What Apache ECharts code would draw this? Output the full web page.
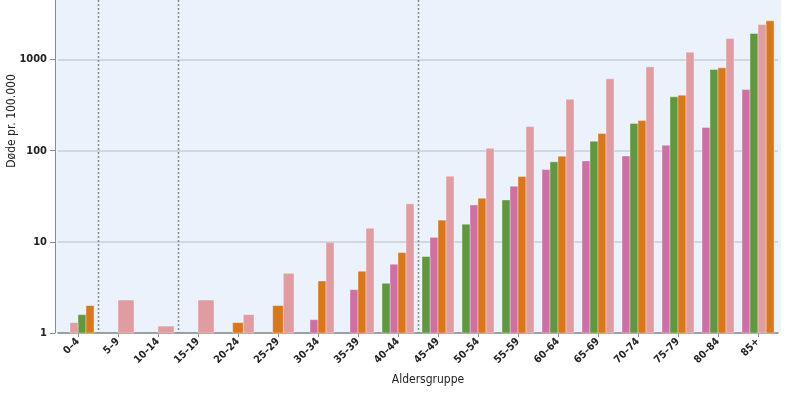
<!DOCTYPE html>
<html><head><meta charset="utf-8">
<script src="https://cdn.jsdelivr.net/npm/echarts@6/dist/echarts.min.js"></script>
<style>html,body{margin:0;padding:0;background:#fff}#c{width:800px;height:400px}</style>
</head><body><div id="c"></div>
<script>
const categories = ['0–4','5–9','10–14','15–19','20–24','25–29','30–34','35–39','40–44','45–49','50–54','55–59','60–64','65–69','70–74','75–79','80–84','85+'];
// values below 1 fall under the log axis floor and are not visible, but still take a slot
const pinkValues   = [0.6, 0.5, 0.4, 0.5, 0.6, 0.7, 1.4, 2.99, 5.68, 11.2, 25.4, 40.8, 62.2, 77.3, 87.7, 115, 180, 470];
const greenValues  = [1.59, null, null, null, null, null, 0.8, 0.9, 3.51, 6.9, 15.6, 28.8, 75.4, 127, 199, 390, 778, 1934];
const orangeValues = [2.0, null, null, null, 1.3, 2.0, 3.72, 4.76, 7.63, 17.3, 30.1, 52.1, 87.1, 154.5, 214, 407, 811, 2660];
const salmonValues = [1.3, 2.3, 1.19, 2.3, 1.59, 4.52, 9.9, 14.1, 26.1, 52.5, 106.5, 184.4, 367, 614, 831, 1206, 1706, 2428];
const yTicks = [1, 10, 100, 1000];
const dividerAfter = ['0–4', '10–14', '40–44'];

const seriesColors = ['#CE70A6', '#609840', '#D8781A', '#E09CA0'];
const allSeries = [pinkValues, greenValues, orangeValues, salmonValues];

function barRenderer(sIdx) {
  return function (params, api) {
    const ci = api.value(0);
    const v = api.value(1);
    if (!(v > 1)) return null;
    const present = [];
    allSeries.forEach((arr, k) => { if (arr[ci] != null) present.push({ k: k, val: arr[ci] }); });
    present.sort((a, b) => (a.val - b.val) || (a.k - b.k));
    const n = present.length;
    const rank = present.findIndex(p => p.k === sIdx);
    const band = params.coordSys.width / categories.length;
    const total = band * 0.8;
    const w = total / n;
    const base = api.coord([ci, 1]);
    const top = api.coord([ci, v]);
    const x0 = base[0] - total / 2 + rank * w;
    return {
      type: 'rect',
      shape: { x: x0, y: top[1], width: w, height: base[1] - top[1] },
      style: { fill: seriesColors[sIdx], stroke: 'rgba(255,255,255,0.35)', lineWidth: 1 }
    };
  };
}

const series = allSeries.map((arr, sIdx) => ({
  type: 'custom',
  name: 'S' + (sIdx + 1),
  renderItem: barRenderer(sIdx),
  data: arr.map((v, i) => v == null ? null : [i, v]).filter(d => d !== null),
  encode: { x: 0, y: 1 },
  z: 3
}));

series.push({
  type: 'custom',
  name: 'dividers',
  silent: true,
  renderItem: function (params, api) {
    const ci = api.value(0);
    const band = params.coordSys.width / categories.length;
    const x = Math.round(api.coord([ci, 1])[0] + band / 2) + 0.5;
    return {
      type: 'line',
      shape: { x1: x, y1: params.coordSys.y, x2: x, y2: params.coordSys.y + params.coordSys.height },
      style: { stroke: '#8a8a8a', lineWidth: 1.5, lineDash: [2, 2] }
    };
  },
  data: dividerAfter.map(c => [categories.indexOf(c), 1]),
  encode: { x: 0, y: 1 },
  z: 2
});

const FONT = "'Liberation Sans Narrow', 'DejaVu Sans Condensed', 'Liberation Sans', sans-serif";

const chart = echarts.init(document.getElementById('c'), null, { renderer: 'canvas' });
chart.setOption({
  animation: false,
  backgroundColor: '#ffffff',
  textStyle: { fontFamily: FONT },
  grid: { left: 58, right: 22, top: 0, bottom: 67, containLabel: false },
  graphic: [
    { type: 'rect', z: -100, silent: true, shape: { x: 55, y: 0, width: 726, height: 333 }, style: { fill: '#ECF2FC' } },
    { type: 'text', x: 12, y: 121, rotation: Math.PI / 2, silent: true,
      style: { text: 'Døde pr. 100.000', fontSize: 12, fontFamily: FONT, fill: '#222', textAlign: 'center', textVerticalAlign: 'middle' } },
    { type: 'text', x: 428, y: 380, silent: true,
      style: { text: 'Aldersgruppe', fontSize: 12, fontFamily: FONT, fill: '#222', textAlign: 'center', textVerticalAlign: 'middle' } }
  ],
  xAxis: {
    type: 'category',
    data: categories,
    boundaryGap: true,
    axisLine: { show: true, lineStyle: { color: '#8c8c8c', width: 1.5 } },
    axisTick: { show: true, alignWithLabel: true, length: 4, lineStyle: { color: '#8c8c8c' } },
    axisLabel: { interval: 0, rotate: 45, fontSize: 10.5, fontWeight: 'bold', color: '#222', margin: 7, fontFamily: FONT },
    splitLine: { show: false }
  },
  yAxis: {
    type: 'log',
    logBase: 10,
    min: 1,
    max: 4500,
    offset: 3,
    axisLine: { show: true, lineStyle: { color: '#8c8c8c', width: 1 } },
    axisTick: { show: true, length: 5, lineStyle: { color: '#8c8c8c' } },
    axisLabel: {
      fontSize: 11, fontWeight: 'bold', color: '#222', margin: 8, fontFamily: FONT,
      showMaxLabel: false,
      formatter: function (v) {
        const r = Math.round(v);
        return yTicks.indexOf(r) >= 0 && Math.abs(v - r) < 1e-6 * r ? String(r) : '';
      }
    },
    splitLine: { show: true, showMaxLine: false, lineStyle: { color: '#c8ccd6', width: 1.5 } }
  },
  series: series
});
</script>
</body></html>
